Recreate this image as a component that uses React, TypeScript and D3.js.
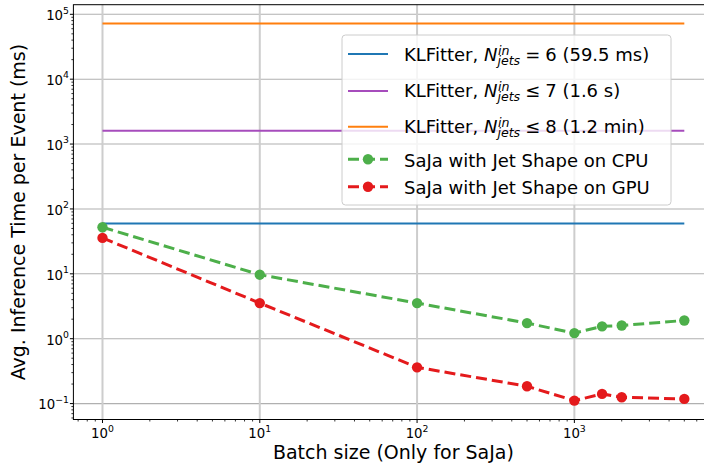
import React, { useEffect, useRef } from 'react';
import * as d3 from 'd3';

// ---- data ----
const batchSizes = [1, 10, 100, 500, 1000, 1500, 2000, 5000];
const cpuTimes = [52.3, 9.7, 3.54, 1.74, 1.22, 1.55, 1.6, 1.91];
const gpuTimes = [35.8, 3.54, 0.362, 0.185, 0.111, 0.141, 0.125, 0.118];
const klfValues = [59.5, 1600, 72000];
const klfRelations = ['=', '\u2264', '\u2264'];
const klfJets = ['6', '7', '8'];
const klfTimes = ['(59.5 ms)', '(1.6 s)', '(1.2 min)'];
const sajaLabels = ['SaJa with Jet Shape on CPU', 'SaJa with Jet Shape on GPU'];
const xLabel = 'Batch size (Only for SaJa)';
const yLabel = 'Avg. Inference Time per Event (ms)';

// ---- styles ----
const W = 704, H = 466;
const L = 73.4, R = 713.4, T = 4.7, B = 419.5;
const FONT = '"DejaVu Sans", sans-serif';
const klfColors = ['#1f77b4', '#a64cbc', '#ff7f0e'];
const sajaColors = ['#4daf4a', '#e41a1c'];
const LEG_FS = 18;
const SUB_FS = 12.6;

function marginDomain(lo: number, hi: number): [number, number] {
  const a = Math.log10(lo), b = Math.log10(hi);
  const m = (b - a) * 0.05;
  return [Math.pow(10, a - m), Math.pow(10, b + m)];
}

export default function App() {
  const ref = useRef<SVGSVGElement | null>(null);
  useEffect(() => {
    const svg = d3.select(ref.current);
    svg.selectAll('*').remove();
    const allY = [...cpuTimes, ...gpuTimes, ...klfValues];
    const x = d3.scaleLog().domain(marginDomain(d3.min(batchSizes)!, d3.max(batchSizes)!)).range([L, R]);
    const y = d3.scaleLog().domain(marginDomain(d3.min(allY)!, d3.max(allY)!)).range([B, T]);

    const [x0, x1] = x.domain();
    const [y0, y1] = y.domain();
    const majors = (d0: number, d1: number) => {
      const out: number[] = [];
      for (let e = Math.ceil(Math.log10(d0) - 1e-9); e <= Math.floor(Math.log10(d1) + 1e-9); e++) out.push(e);
      return out;
    };
    const minors = (d0: number, d1: number) => {
      const out: number[] = [];
      for (let e = Math.floor(Math.log10(d0)); e <= Math.ceil(Math.log10(d1)); e++) {
        for (let k = 2; k <= 9; k++) {
          const v = k * Math.pow(10, e);
          if (v >= d0 && v <= d1) out.push(v);
        }
      }
      return out;
    };
    const xMaj = majors(x0, x1);
    const yMaj = majors(y0, y1);

    const g = svg.append('g');
    // grid
    yMaj.forEach(e => {
      g.append('line').attr('x1', L).attr('x2', R).attr('y1', y(Math.pow(10, e))).attr('y2', y(Math.pow(10, e)))
        .attr('stroke', '#b0b0b0').attr('stroke-width', 1.1);
    });
    xMaj.forEach(e => {
      g.append('line').attr('y1', T).attr('y2', B).attr('x1', x(Math.pow(10, e))).attr('x2', x(Math.pow(10, e)))
        .attr('stroke', '#cdcdcd').attr('stroke-width', 2);
    });

    // KLFitter horizontal lines
    const xs = [d3.min(batchSizes)!, d3.max(batchSizes)!];
    klfValues.forEach((v, i) => {
      g.append('line').attr('x1', x(xs[0])).attr('x2', x(xs[1])).attr('y1', y(v)).attr('y2', y(v))
        .attr('stroke', klfColors[i]).attr('stroke-width', 2);
    });

    // SaJa series
    [cpuTimes, gpuTimes].forEach((vals, i) => {
      const line = d3.line<number>().x((_, j) => x(batchSizes[j])).y(d => y(d));
      g.append('path').attr('d', line(vals)!).attr('fill', 'none').attr('stroke', sajaColors[i])
        .attr('stroke-width', 3).attr('stroke-dasharray', '11,5');
      vals.forEach((v, j) => {
        g.append('circle').attr('cx', x(batchSizes[j])).attr('cy', y(v)).attr('r', 5.2).attr('fill', sajaColors[i]);
      });
    });

    // spines
    g.append('rect').attr('x', L).attr('y', T).attr('width', R - L).attr('height', B - T)
      .attr('fill', 'none').attr('stroke', '#000').attr('stroke-width', 1);

    // ticks
    xMaj.forEach(e => {
      const px = x(Math.pow(10, e));
      g.append('line').attr('x1', px).attr('x2', px).attr('y1', B).attr('y2', B + 3.5).attr('stroke', '#000').attr('stroke-width', 1);
      const t = g.append('text').attr('x', px).attr('y', 438).attr('text-anchor', 'middle')
        .attr('font-family', FONT).attr('font-size', 13.3).attr('fill', '#000');
      t.append('tspan').text('10');
      t.append('tspan').attr('font-size', 9.3).attr('dy', -6.5).text(e < 0 ? '\u2212' + (-e) : String(e));
    });
    minors(x0, x1).forEach(v => {
      g.append('line').attr('x1', x(v)).attr('x2', x(v)).attr('y1', B).attr('y2', B + 2).attr('stroke', '#000').attr('stroke-width', 0.8);
    });
    yMaj.forEach(e => {
      const py = y(Math.pow(10, e));
      g.append('line').attr('x1', L - 3.5).attr('x2', L).attr('y1', py).attr('y2', py).attr('stroke', '#000').attr('stroke-width', 1);
      const t = g.append('text').attr('x', 69).attr('y', py + 5.8).attr('text-anchor', 'end')
        .attr('font-family', FONT).attr('font-size', 13.3).attr('fill', '#000');
      t.append('tspan').text('10');
      t.append('tspan').attr('font-size', 9.3).attr('dy', -6.5).text(e < 0 ? '\u2212' + (-e) : String(e));
    });
    minors(y0, y1).forEach(v => {
      g.append('line').attr('x1', L - 2).attr('x2', L).attr('y1', y(v)).attr('y2', y(v)).attr('stroke', '#000').attr('stroke-width', 0.8);
    });

    // axis labels
    g.append('text').attr('x', (L + R) / 2).attr('y', 459).attr('text-anchor', 'middle')
      .attr('font-family', FONT).attr('font-size', 19).attr('fill', '#000').text(xLabel);
    g.append('text').attr('transform', `translate(${25},${(T + B) / 2}) rotate(-90)`).attr('text-anchor', 'middle')
      .attr('font-family', FONT).attr('font-size', 19).attr('fill', '#000').text(yLabel);

    // legend
    const lg = svg.append('g');
    lg.append('rect').attr('x', 342).attr('y', 35).attr('width', 329).attr('height', 170).attr('rx', 3.5)
      .attr('fill', '#fff').attr('fill-opacity', 0.8).attr('stroke', '#cccccc').attr('stroke-width', 1);
    const hx0 = 348, hx1 = 388, tx = 404;
    const klfLineY = [54, 91, 126.7];
    const klfBase = [60.5, 96.5, 133];
    klfValues.forEach((_, i) => {
      lg.append('line').attr('x1', hx0).attr('x2', hx1).attr('y1', klfLineY[i]).attr('y2', klfLineY[i])
        .attr('stroke', klfColors[i]).attr('stroke-width', 2);
      const base = klfBase[i];
      const mk = (xx: number, yy: number, s: string, size: number, italic: boolean) => {
        const t = lg.append('text').attr('x', xx).attr('y', yy).attr('font-family', FONT).attr('font-size', size)
          .attr('fill', '#000').attr('font-style', italic ? 'italic' : 'normal').text(s);
        return (t.node() as SVGTextElement).getComputedTextLength();
      };
      let cx = tx;
      cx += mk(cx, base, 'KLFitter,\u00a0', LEG_FS, false);
      cx += mk(cx, base, 'N', LEG_FS, true);
      const wIn = mk(cx + 0.5, base - 6, 'in', SUB_FS, true);
      const wJ = mk(cx, base + 4, 'jets', SUB_FS, true);
      cx += Math.max(wIn, wJ) + 5;
      cx += mk(cx, base, klfRelations[i], LEG_FS, false) + 5;
      cx += mk(cx, base, klfJets[i], LEG_FS, false);
      mk(cx, base, '\u00a0' + klfTimes[i], LEG_FS, false);
    });
    const sajaLineY = [159.3, 186.7];
    const sajaBase = [166.5, 194.3];
    sajaLabels.forEach((s, i) => {
      lg.append('line').attr('x1', hx0).attr('x2', hx1).attr('y1', sajaLineY[i]).attr('y2', sajaLineY[i])
        .attr('stroke', sajaColors[i]).attr('stroke-width', 3).attr('stroke-dasharray', '11,5');
      lg.append('circle').attr('cx', (hx0 + hx1) / 2).attr('cy', sajaLineY[i]).attr('r', 5.2).attr('fill', sajaColors[i]);
      lg.append('text').attr('x', tx).attr('y', sajaBase[i]).attr('font-family', FONT).attr('font-size', LEG_FS)
        .attr('fill', '#000').text(s);
    });
  }, []);
  return (
    <div style={{ position: 'absolute', left: 0, top: 0 }}>
      <svg ref={ref} width={W} height={H} style={{ display: 'block', background: '#fff' }} />
    </div>
  );
}
